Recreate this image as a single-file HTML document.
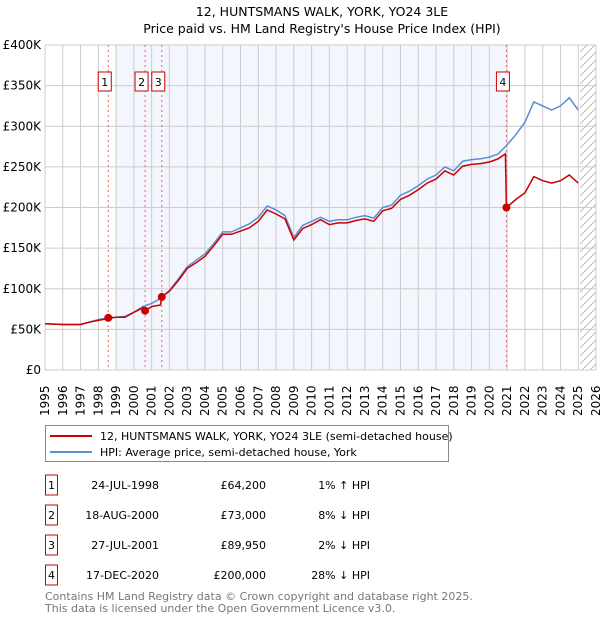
<!DOCTYPE html>
<html><head><meta charset="utf-8"><style>
body{margin:0;background:#fff;font-family:"Liberation Sans","DejaVu Sans",sans-serif;}
svg text{font-family:"DejaVu Sans","Liberation Sans",sans-serif;}
</style></head><body>
<svg id="c" width="600" height="620" xmlns="http://www.w3.org/2000/svg">
<text x="322" y="16" text-anchor="middle" font-size="12.5">12, HUNTSMANS WALK, YORK, YO24 3LE</text>
<text x="322" y="33" text-anchor="middle" font-size="12.5">Price paid vs. HM Land Registry's House Price Index (HPI)</text>
<g id="plot"></g>
<g>
<rect x="45.5" y="425.5" width="403" height="36" fill="#fff" stroke="#888"/>
<line x1="50" y1="436" x2="92" y2="436" stroke="#cc0000" stroke-width="2"/>
<text x="100" y="440" font-size="11">12, HUNTSMANS WALK, YORK, YO24 3LE (semi-detached house)</text>
<line x1="50" y1="452" x2="92" y2="452" stroke="#5b8fd4" stroke-width="2"/>
<text x="100" y="456" font-size="11">HPI: Average price, semi-detached house, York</text>
</g>
<g id="table" font-size="11"></g>
<text x="45" y="600" font-size="11" fill="#777">Contains HM Land Registry data © Crown copyright and database right 2025.</text>
<text x="45" y="612" font-size="11" fill="#777">This data is licensed under the Open Government Licence v3.0.</text>
</svg>
<script>
const hpiYears=[1995,1996,1997,1997.5,1998,1998.5,1999,1999.5,2000,2000.5,2001,2001.5,2002,2002.5,2003,2003.5,2004,2004.5,2005,2005.5,2006,2006.5,2007,2007.5,2008,2008.5,2009,2009.5,2010,2010.5,2011,2011.5,2012,2012.5,2013,2013.5,2014,2014.5,2015,2015.5,2016,2016.5,2017,2017.5,2018,2018.5,2019,2019.5,2020,2020.5,2021,2021.5,2022,2022.5,2023,2023.5,2024,2024.5,2025];
const hpiVals=[57,56,56,59,62,64,65,66,71,78,82,88,98,112,127,135,143,156,170,170,175,180,188,202,197,190,163,178,183,188,183,185,185,188,190,187,200,203,215,220,227,235,240,250,245,257,259,260,262,266,277,290,305,330,325,320,325,335,320];
const redYears=[1995,1996,1997,1997.5,1998,1998.5,1999,1999.5,2000,2000.55,2000.63,2001,2001.5,2001.57,2002,2002.5,2003,2003.5,2004,2004.5,2005,2005.5,2006,2006.5,2007,2007.5,2008,2008.5,2009,2009.5,2010,2010.5,2011,2011.5,2012,2012.5,2013,2013.5,2014,2014.5,2015,2015.5,2016,2016.5,2017,2017.5,2018,2018.5,2019,2019.5,2020,2020.5,2020.9,2020.96,2021.5,2022,2022.5,2023,2023.5,2024,2024.5,2025];
const redVals=[57,56,56,59,61,63,65,65,71,77,73,78,80,90,97,110,125,132,140,153,167,167,171,175,183,197,192,186,160,174,179,185,179,181,181,184,186,183,196,199,210,215,222,230,235,245,240,251,253,254,256,260,266,200,210,218,238,233,230,233,240,230];
const saleLabels=["1","2","3","4"];
const saleYears=[1998.56,2000.63,2001.57,2020.96];
const saleVals=[64.2,73,89.95,200];
const saleDates=["24-JUL-1998","18-AUG-2000","27-JUL-2001","17-DEC-2020"];
const salePrices=["£64,200","£73,000","£89,950","£200,000"];
const saleHpi=["1% ↑ HPI","8% ↓ HPI","2% ↓ HPI","28% ↓ HPI"];
const yTicks=[0,50,100,150,200,250,300,350,400];
const yTickLabels=["£0","£50K","£100K","£150K","£200K","£250K","£300K","£350K","£400K"];
const xTicks=[1995,1996,1997,1998,1999,2000,2001,2002,2003,2004,2005,2006,2007,2008,2009,2010,2011,2012,2013,2014,2015,2016,2017,2018,2019,2020,2021,2022,2023,2024,2025,2026];

const L=45,R=596,T=45,B=370,NS="http://www.w3.org/2000/svg";
const xs=y=>L+(y-1995)/(2026-1995)*(R-L);
const ys=v=>B-v/400*(B-T);
const g=document.getElementById('plot');
function mk(tag,attrs,parent){const e=document.createElementNS(NS,tag);for(const k in attrs)e.setAttribute(k,attrs[k]);(parent||g).appendChild(e);return e;}
let e;
e=mk('rect',{x:xs(1999),y:T,width:xs(2021)-xs(1999),height:B-T,fill:'#f3f6fd'});


const defs=mk('defs',{});
const pat=mk('pattern',{id:'h',width:8,height:8,patternUnits:'userSpaceOnUse'},defs);
mk('path',{d:'M0,8 L8,0',stroke:'#bbb','stroke-width':1},pat);
e=mk('rect',{x:xs(2025.1),y:T,width:R-xs(2025.1),height:B-T,fill:'url(#h)'});


xTicks.forEach(t=>{
 e=mk('line',{x1:xs(t),x2:xs(t),y1:T,y2:B,stroke:'#ccc','stroke-width':1});
 
 
 const tx=mk('text',{x:0,y:0,'font-size':12,transform:`translate(${xs(t)+4},${B+46}) rotate(-90)`});
 tx.textContent=t;
 
 
});
yTicks.forEach((t,i)=>{
 e=mk('line',{x1:L,x2:R,y1:ys(t),y2:ys(t),stroke:'#ccc','stroke-width':1});
 
 
 const tx=mk('text',{x:L-4,y:ys(t)+4,'font-size':12,'text-anchor':'end'});
 tx.textContent=yTickLabels[i];
 
 
});
saleYears.forEach((y,i)=>{
 e=mk('line',{x1:xs(y),x2:xs(y),y1:T,y2:B,stroke:'#e66','stroke-width':1,'stroke-dasharray':'2,3'});
 
 
 const bx=mk('g',{});
 
 
 mk('rect',{x:xs(y)-10,y:72,width:13,height:19,fill:'#fff',stroke:'#cc0000'},bx);
 const tt=mk('text',{x:xs(y)-3.5,y:86,'font-size':11,'text-anchor':'middle'},bx);
 tt.textContent=saleLabels[i];
});
const path=(xa,va)=>xa.map((y,i)=>(i?'L':'M')+xs(y).toFixed(1)+','+ys(va[i]).toFixed(1)).join('');
e=mk('path',{d:path(hpiYears,hpiVals),fill:'none',stroke:'#5b8fd4','stroke-width':1.5});


e=mk('path',{d:path(redYears,redVals),fill:'none',stroke:'#cc0000','stroke-width':1.5});


saleYears.forEach((y,i)=>{
 e=mk('circle',{cx:xs(y),cy:ys(saleVals[i]),r:4,fill:'#cc0000'});
 
 
});
const tb=document.getElementById('table');
saleLabels.forEach((l,i)=>{
 const y=485+i*30;
 const row=mk('g',{},tb);
 
 
 mk('rect',{x:45.5,y:y-10,width:12,height:20,fill:'#fff',stroke:'#cc0000'},row);
 let t=mk('text',{x:51.5,y:y+4,'text-anchor':'middle'},row);t.textContent=l;
 t=mk('text',{x:159,y:y+4,'text-anchor':'end'},row);t.textContent=saleDates[i];
 t=mk('text',{x:266,y:y+4,'text-anchor':'end'},row);t.textContent=salePrices[i];
 t=mk('text',{x:370,y:y+4,'text-anchor':'end'},row);t.textContent=saleHpi[i];
});
</script>
</body></html>
